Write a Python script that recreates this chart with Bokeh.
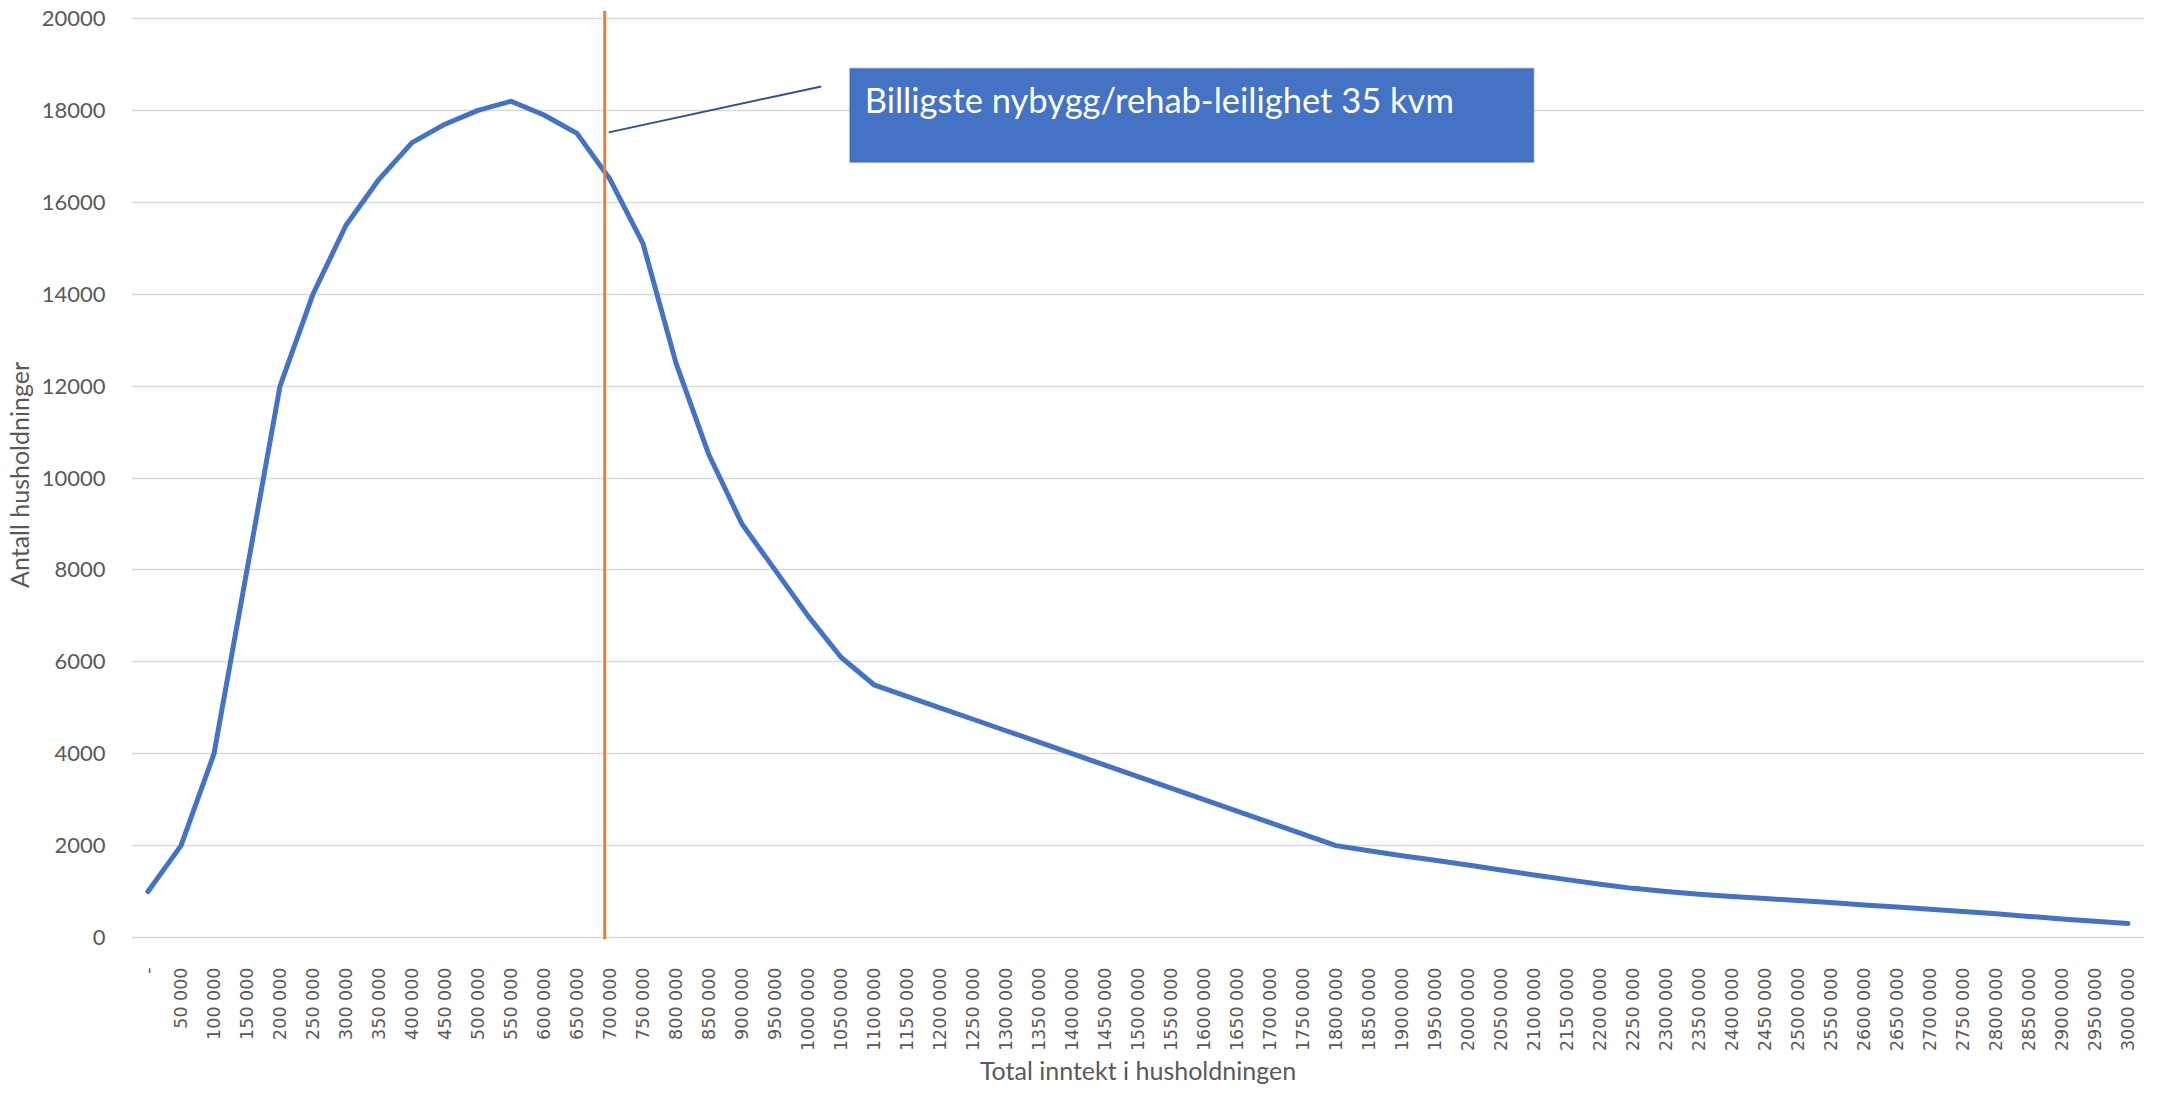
from bokeh.plotting import figure
from bokeh.models import Range1d, FixedTicker, Span, BoxAnnotation, Label, ColumnDataSource
from bokeh.embed import file_html
from bokeh.resources import INLINE

# ---- data ----
incomes = list(range(0, 3000001, 50000))  # category values (kr)
tick_labels = ["-" if v == 0 else f"{v // 1000} 000" for v in incomes]
households = [
    1000, 2000, 4000, 8000, 12000, 14000, 15500, 16500, 17300, 17700,
    18000, 18200, 17900, 17500, 16500, 15100, 12500, 10500, 9000, 8000,
    7000, 6100, 5500, 5250, 5000, 4750, 4500, 4250, 4000, 3750,
    3500, 3250, 3000, 2750, 2500, 2250, 2000, 1890, 1780, 1680,
    1580, 1470, 1360, 1260, 1160, 1070, 1000, 940, 895, 850,
    805, 760, 710, 665, 615, 565, 515, 460, 405, 355, 305,
]
threshold_income = 692000
annotation_text = "Billigste nybygg/rehab-leilighet 35 kvm"
y_ticks = [0, 2000, 4000, 6000, 8000, 10000, 12000, 14000, 16000, 18000, 20000]

step = incomes[1] - incomes[0]
idx = [v / step for v in incomes]

FONT = "Lato"
TXT = "#595959"

p = figure(width=2151, height=1088, output_backend="svg", toolbar_location=None,
           x_range=Range1d(-0.5, len(incomes) - 0.5), y_range=Range1d(-43, 20174),
           min_border_left=124, min_border_right=7, min_border_top=10, min_border_bottom=148)
p.outline_line_color = None
p.background_fill_color = "white"
p.border_fill_color = "white"

src = ColumnDataSource(dict(x=idx, y=households))
p.line("x", "y", source=src, line_color="#4472C4", line_width=5, line_join="round", line_cap="round")

p.add_layout(Span(location=threshold_income / step, dimension="height",
                  line_color="#ED7D31", line_width=3))

# annotation box + connector
p.add_layout(BoxAnnotation(left=21.27, right=41.99, bottom=16870, top=18913,
                           fill_color="#4472C4", fill_alpha=1.0,
                           line_color="#2F528F", line_width=2, level="overlay"))
p.segment(x0=[13.96], y0=[17522], x1=[20.4], y1=[18522], line_color="#2F528F", line_width=2)
p.add_layout(Label(x=21.72, y=18230, text=annotation_text, text_color="white",
                   text_font=FONT, text_font_size="34.5px", text_baseline="middle",
                   level="overlay"))

# axes
xa = p.xaxis[0]
xa.ticker = FixedTicker(ticks=idx)
xa.major_label_overrides = {float(i): lab for i, lab in zip(idx, tick_labels)}
xa.major_label_orientation = 1.5707963
xa.axis_line_color = None
xa.major_tick_line_color = None
xa.minor_tick_line_color = None
xa.major_label_standoff = 22
xa.major_label_text_font = "DejaVu Sans"
xa.major_label_text_font_size = "17.5px"
xa.major_label_text_color = TXT
xa.axis_label = "Total inntekt i husholdningen"
xa.axis_label_text_font = FONT
xa.axis_label_text_font_style = "normal"
xa.axis_label_text_font_size = "25px"
xa.axis_label_text_color = TXT
xa.axis_label_standoff = 1

ya = p.yaxis[0]
ya.ticker = FixedTicker(ticks=y_ticks)
ya.axis_line_color = None
ya.major_tick_line_color = None
ya.minor_tick_line_color = None
ya.major_label_standoff = 20
ya.major_label_text_font = FONT
ya.major_label_text_font_size = "22px"
ya.major_label_text_color = TXT
ya.axis_label = "Antall husholdninger"
ya.axis_label_text_font = FONT
ya.axis_label_text_font_style = "normal"
ya.axis_label_text_font_size = "25px"
ya.axis_label_text_color = TXT
ya.axis_label_standoff = 5

p.xgrid.grid_line_color = None
p.ygrid.grid_line_color = "#D9D9D9"
p.ygrid.grid_line_width = 1.5

open("out.html", "w").write(file_html(p, INLINE))
